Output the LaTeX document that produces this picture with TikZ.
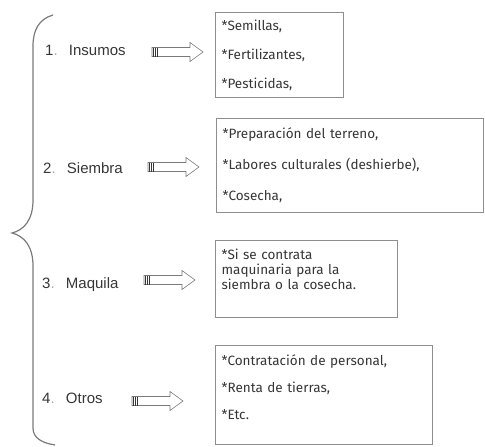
\documentclass[tikz,border=0pt]{standalone}
\usepackage{fontspec}
\setmainfont{Liberation Sans}
\newfontfamily\boxfont{Fira Sans}
\usepackage{tikz}

\definecolor{framegray}{HTML}{8E8E8E}
\definecolor{inkgray}{HTML}{363636}
\definecolor{bracegray}{HTML}{7A7A7A}
\definecolor{dotgray}{HTML}{A8A8A8}

\begin{document}
\begin{tikzpicture}[
			x=1pt,y=-1pt,
			label/.style={anchor=base west,inner sep=0pt,text=inkgray,font=\fontsize{15}{18}\selectfont},
			box/.style={draw=framegray,line width=1.2pt,anchor=north west,align=left,inner xsep=6pt,inner ysep=0pt,text=inkgray,font=\boxfont\fontsize{13.5}{30}\selectfont},
			arrowline/.style={draw=bracegray,line width=0.6pt},
			tailbar/.style={draw=inkgray,line width=0.8pt},
			hollow arrow/.pic={
				\draw[arrowline] (0,-4.5)--(38,-4.5)--(38,-9.5)--(51,0)--(38,9.5)--(38,4.5)--(0,4.5)--cycle;
				\foreach \s in {1,3,5} \draw[tailbar] (\s,-4.5)--(\s,4.5);
			}
			]
			\useasboundingbox (0,0) rectangle (485,447);
			% the big brace on the left
			\draw[bracegray,line width=1.2pt] (53,15) .. controls (39,19) and (33,30) .. (33,46) -- (33,200)
				.. controls (33,220) and (24,230) .. (12,233) .. controls (24,236) and (33,246) .. (33,266)
				-- (33,428) .. controls (33,438) and (42,443) .. (55,445);
			% items
			\node[label] (insumos) at (45,56) {1\textcolor{dotgray}{.}\hspace{0.75em}Insumos};
			\node[label] (siembra) at (43,173) {2\textcolor{dotgray}{.}\hspace{0.75em}Siembra};
			\node[label] (maquila) at (42,288) {3\textcolor{dotgray}{.}\hspace{0.75em}Maquila};
			\node[label] (otros) at (42,403) {4\textcolor{dotgray}{.}\hspace{0.75em}Otros};
			% block arrows
			\pic[name=a1] at (152,52) {hollow arrow};
			\pic[name=a2] at (148,167) {hollow arrow};
			\pic[name=a3] at (144,280) {hollow arrow};
			\pic[name=a4] at (132,401) {hollow arrow};
			% boxes
			\node[box,text width=116pt,minimum height=85pt,font=\boxfont\fontsize{13.5}{29}\selectfont] (insumosbox) at (215,12) {*Semillas,\\{}*Fertilizantes,\\{}*Pesticidas,};
			\node[box,text width=255pt,minimum height=94pt,font=\boxfont\fontsize{13.5}{31}\selectfont] (siembrabox) at (216,118) {*Preparación del terreno,\\{}*Labores culturales (deshierbe),\\{}*Cosecha,};
			\node[box,text width=170pt,minimum height=77pt,font=\boxfont\fontsize{13.5}{15}\selectfont] (maquilabox) at (215,240) {*Si se contrata\\maquinaria para la\\siembra o la cosecha.\rule[-20pt]{0pt}{0pt}};
			\node[box,text width=205pt,minimum height=99pt,font=\boxfont\fontsize{13.5}{27}\selectfont] (otrosbox) at (215,345) {*Contratación de personal,\\{}*Renta de tierras,\\{}*Etc.\rule[-17pt]{0pt}{0pt}};
		\end{tikzpicture}
\end{document}
